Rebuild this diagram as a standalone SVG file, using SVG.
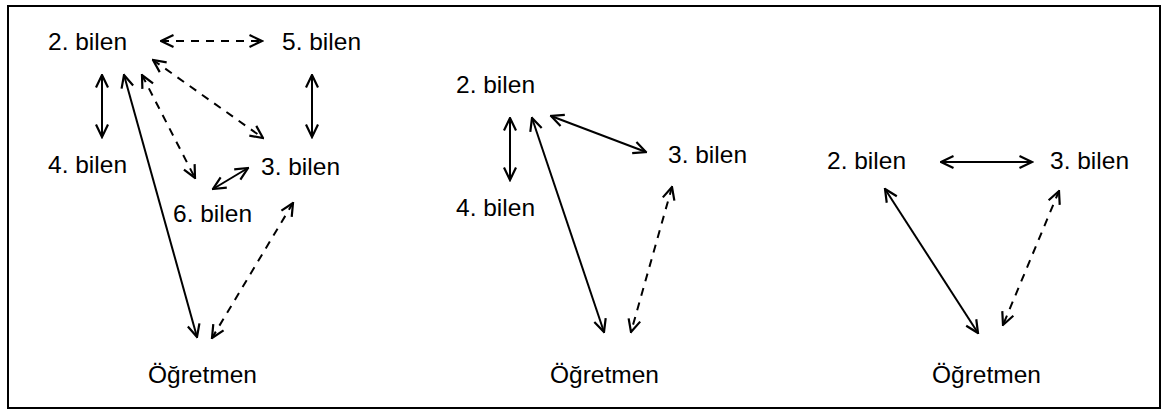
<svg xmlns="http://www.w3.org/2000/svg" width="1163" height="410" viewBox="0 0 1163 410">
  <style>
    .lbl { font-family: "Liberation Sans", Arial, sans-serif; font-size: 24.5px; fill: #000; }
    .ln { stroke: #000; stroke-width: 2; fill: none; marker-start: url(#head); marker-end: url(#head); }
    .dash { stroke-dasharray: 8 7; }
  </style>
  <defs>
    <marker id="head" viewBox="0 0 15 15" refX="13.5" refY="7.5" markerWidth="15" markerHeight="15" markerUnits="userSpaceOnUse" orient="auto-start-reverse">
      <path d="M1,1.5 L13.5,7.5 L1,13.5" fill="none" stroke="#000" stroke-width="2.2" stroke-linejoin="miter"/>
    </marker>
  </defs>

  <rect x="8" y="6" width="1152" height="402" fill="#fff" stroke="#000" stroke-width="2"/>

  <!-- left group: five pupils and the teacher -->
  <g id="p1-b2"><text class="lbl" x="48" y="50">2. bilen</text></g>
  <g id="p1-b5"><text class="lbl" x="282" y="50">5. bilen</text></g>
  <g id="p1-b4"><text class="lbl" x="48" y="173">4. bilen</text></g>
  <g id="p1-b3"><text class="lbl" x="261" y="175">3. bilen</text></g>
  <g id="p1-b6"><text class="lbl" x="173" y="222">6. bilen</text></g>
  <g id="p1-teacher"><text class="lbl" x="148" y="383">Öğretmen</text></g>

  <!-- middle group -->
  <g id="p2-b2"><text class="lbl" x="456" y="93">2. bilen</text></g>
  <g id="p2-b3"><text class="lbl" x="668" y="163">3. bilen</text></g>
  <g id="p2-b4"><text class="lbl" x="456" y="216">4. bilen</text></g>
  <g id="p2-teacher"><text class="lbl" x="550" y="383">Öğretmen</text></g>

  <!-- right group -->
  <g id="p3-b2"><text class="lbl" x="827" y="169">2. bilen</text></g>
  <g id="p3-b3"><text class="lbl" x="1050" y="169">3. bilen</text></g>
  <g id="p3-teacher"><text class="lbl" x="932" y="383">Öğretmen</text></g>

  <g id="connectors">
    <!-- left -->
    <line class="ln dash" x1="161" y1="41" x2="262" y2="41"/>
    <line class="ln" x1="102" y1="75" x2="102" y2="137"/>
    <line class="ln" x1="312" y1="75" x2="312" y2="137"/>
    <line class="ln dash" x1="153" y1="60" x2="263" y2="138"/>
    <line class="ln dash" x1="142" y1="75" x2="195" y2="178"/>
    <line class="ln" x1="124" y1="75" x2="197" y2="337"/>
    <line class="ln" x1="248" y1="168" x2="213" y2="189"/>
    <line class="ln dash" x1="293" y1="203" x2="212" y2="338"/>
    <!-- middle -->
    <line class="ln" x1="510" y1="118" x2="510" y2="180"/>
    <line class="ln" x1="551" y1="116" x2="646" y2="152"/>
    <line class="ln" x1="532" y1="118" x2="604" y2="332"/>
    <line class="ln dash" x1="672" y1="187" x2="631" y2="332"/>
    <!-- right -->
    <line class="ln" x1="941" y1="162" x2="1032" y2="162"/>
    <line class="ln" x1="885" y1="189" x2="978" y2="333"/>
    <line class="ln dash" x1="1059" y1="191" x2="1003" y2="325"/>
  </g>
</svg>
